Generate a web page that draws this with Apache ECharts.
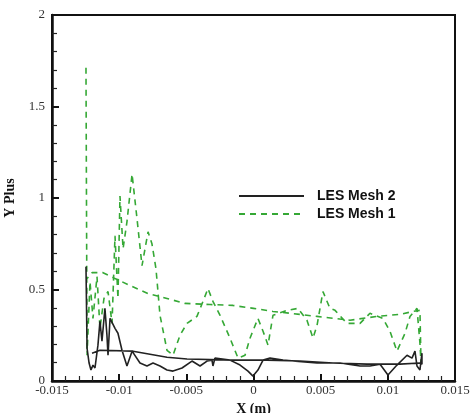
<!DOCTYPE html>
<html>
<head>
<meta charset="utf-8">
<script src="https://cdn.jsdelivr.net/npm/echarts@6/dist/echarts.min.js"></script>
<style>
  html, body { margin: 0; padding: 0; background: #fff; }
  #chart { width: 470px; height: 413px; }
</style>
</head>
<body>
<div id="chart"></div>
<script>
// axis ticks
const xTicks = [-0.015, -0.01, -0.005, 0, 0.005, 0.01, 0.015]
const yTicks = [0, 0.5, 1, 1.5, 2]

// LES Mesh 1 (green dashed) - leading edge spike, lower wavy side, then upper smoother side back
const mesh1 = [
  [-0.01247, 1.712], [-0.01239, 0.141], [-0.01217, 0.543], [-0.01195, 0.342],
  [-0.01165, 0.571], [-0.01143, 0.288], [-0.01113, 0.451], [-0.01083, 0.489],
  [-0.01053, 0.315], [-0.01031, 0.793], [-0.01009, 0.451], [-0.00994, 1.011],
  [-0.00971, 0.723], [-0.00942, 0.870], [-0.00904, 1.130], [-0.00867, 0.886],
  [-0.00830, 0.630], [-0.00785, 0.815], [-0.00756, 0.750], [-0.00726, 0.614],
  [-0.00696, 0.359], [-0.00644, 0.168], [-0.00599, 0.141], [-0.00547, 0.250],
  [-0.00495, 0.315], [-0.00421, 0.353], [-0.00376, 0.435], [-0.00339, 0.505],
  [-0.00302, 0.435], [-0.00249, 0.359], [-0.00175, 0.234], [-0.00115, 0.125],
  [-0.00063, 0.141], [-0.00026, 0.234], [0.00033, 0.342], [0.00071, 0.272],
  [0.00108, 0.196], [0.00145, 0.359], [0.00249, 0.386], [0.00331, 0.397],
  [0.00398, 0.332], [0.00443, 0.234], [0.00473, 0.304], [0.00517, 0.489],
  [0.00569, 0.397], [0.00607, 0.386], [0.00696, 0.315], [0.00793, 0.315],
  [0.00867, 0.370], [0.00964, 0.342], [0.01016, 0.272], [0.01068, 0.163],
  [0.01128, 0.261], [0.01165, 0.353], [0.01217, 0.397], [0.01239, 0.207],
  [0.01247, 0.098],
  [0.01239, 0.386], [0.01187, 0.380], [0.01090, 0.364], [0.00919, 0.353],
  [0.00718, 0.332], [0.00473, 0.353], [0.00272, 0.370], [0.00145, 0.380],
  [0.00000, 0.397], [-0.00153, 0.413], [-0.00324, 0.418], [-0.00510, 0.424],
  [-0.00644, 0.451], [-0.00785, 0.478], [-0.00919, 0.522], [-0.01031, 0.560],
  [-0.01120, 0.592], [-0.01202, 0.592], [-0.01239, 0.560]
]

// LES Mesh 2 (black solid) - wavy lower side, then smooth upper side back
const mesh2 = [
  [-0.01247, 0.625], [-0.01239, 0.179], [-0.01224, 0.098], [-0.01210, 0.060],
  [-0.01195, 0.087], [-0.01180, 0.071], [-0.01158, 0.196], [-0.01143, 0.326],
  [-0.01128, 0.217], [-0.01106, 0.397], [-0.01091, 0.250], [-0.01083, 0.141],
  [-0.01068, 0.342], [-0.01031, 0.288], [-0.01009, 0.261], [-0.00979, 0.168],
  [-0.00942, 0.082], [-0.00904, 0.163], [-0.00845, 0.098], [-0.00793, 0.082],
  [-0.00748, 0.098], [-0.00696, 0.082], [-0.00644, 0.060], [-0.00599, 0.054],
  [-0.00532, 0.071], [-0.00458, 0.109], [-0.00398, 0.082], [-0.00346, 0.109],
  [-0.00309, 0.114], [-0.00302, 0.082], [-0.00287, 0.125], [-0.00175, 0.114],
  [-0.00100, 0.087], [-0.00041, 0.054], [-0.00004, 0.027], [0.00033, 0.060],
  [0.00071, 0.114], [0.00123, 0.125], [0.00220, 0.114], [0.00473, 0.098],
  [0.00644, 0.098], [0.00793, 0.082], [0.00867, 0.082], [0.00942, 0.092],
  [0.01001, 0.033], [0.01068, 0.087], [0.01143, 0.141], [0.01180, 0.125],
  [0.01202, 0.163], [0.01217, 0.082], [0.01239, 0.060], [0.01254, 0.152],
  [0.01254, 0.092],
  [0.01239, 0.098], [0.01090, 0.092], [0.00845, 0.092], [0.00592, 0.098],
  [0.00346, 0.109], [0.00100, 0.114], [-0.00153, 0.114], [-0.00495, 0.120],
  [-0.00644, 0.130], [-0.00897, 0.163], [-0.01143, 0.168], [-0.01202, 0.152]
]

const serif = 'Liberation Serif'
const fmt = (v) => {
  const t = xTicks.concat(yTicks).find(k => Math.abs(k - v) < 1e-9)
  return t === undefined ? '' : String(t)
}

const chart = echarts.init(document.getElementById('chart'))

chart.setOption({
  animation: false,
  grid: {
    left: 52, right: 15, top: 15, bottom: 32,
    outerBoundsMode: 'none',
    show: true, borderColor: '#111', borderWidth: 2, backgroundColor: '#fff'
  },
  legend: {
    orient: 'vertical',
    left: 233, top: 184,
    itemWidth: 65, itemHeight: 14, itemGap: 4,
    data: ['LES Mesh 2', 'LES Mesh 1'],
    itemStyle: { opacity: 0 },
    textStyle: {
      fontFamily: 'Liberation Sans', fontWeight: 'bold', fontSize: 14,
      color: '#111', padding: [0, 0, 0, 8]
    }
  },
  xAxis: {
    type: 'value',
    min: -0.015, max: 0.015, interval: 0.005,
    name: 'X (m)', nameLocation: 'middle', nameGap: 15,
    nameTextStyle: { fontFamily: serif, fontWeight: 'bold', fontSize: 14, color: '#111' },
    axisLine: { show: true, onZero: false, lineStyle: { color: '#111', width: 2.5 } },
    axisTick: { show: true, inside: true, length: 7, lineStyle: { color: '#111', width: 2 } },
    minorTick: { show: true, splitNumber: 5, length: 5, lineStyle: { color: '#222', width: 1.2 } },
    axisLabel: { fontFamily: serif, fontSize: 13, color: '#333', margin: 3, formatter: fmt },
    splitLine: { show: false }
  },
  yAxis: {
    type: 'value',
    min: 0, max: 2, interval: 0.5,
    name: 'Y Plus', nameLocation: 'middle', nameGap: 18, nameRotate: 90,
    nameTextStyle: { fontFamily: serif, fontWeight: 'bold', fontSize: 14, color: '#111' },
    axisLine: { show: true, onZero: false, lineStyle: { color: '#111', width: 2.5 } },
    axisTick: { show: true, inside: true, length: 7, lineStyle: { color: '#111', width: 2 } },
    minorTick: { show: true, splitNumber: 5, length: 5, lineStyle: { color: '#222', width: 1.2 } },
    axisLabel: { fontFamily: serif, fontSize: 13, color: '#333', margin: 7, formatter: fmt },
    splitLine: { show: false }
  },
  series: [
    {
      name: 'LES Mesh 1',
      type: 'line',
      data: mesh1,
      symbol: 'none',
      itemStyle: { color: '#35a835' },
      lineStyle: { color: '#35a835', width: 1.6, type: [6, 5] }
    },
    {
      name: 'LES Mesh 2',
      type: 'line',
      data: mesh2,
      symbol: 'none',
      itemStyle: { color: '#222' },
      lineStyle: { color: '#222', width: 1.6 }
    }
  ]
})

window.addEventListener('resize', () => chart.resize())
</script>
</body>
</html>
